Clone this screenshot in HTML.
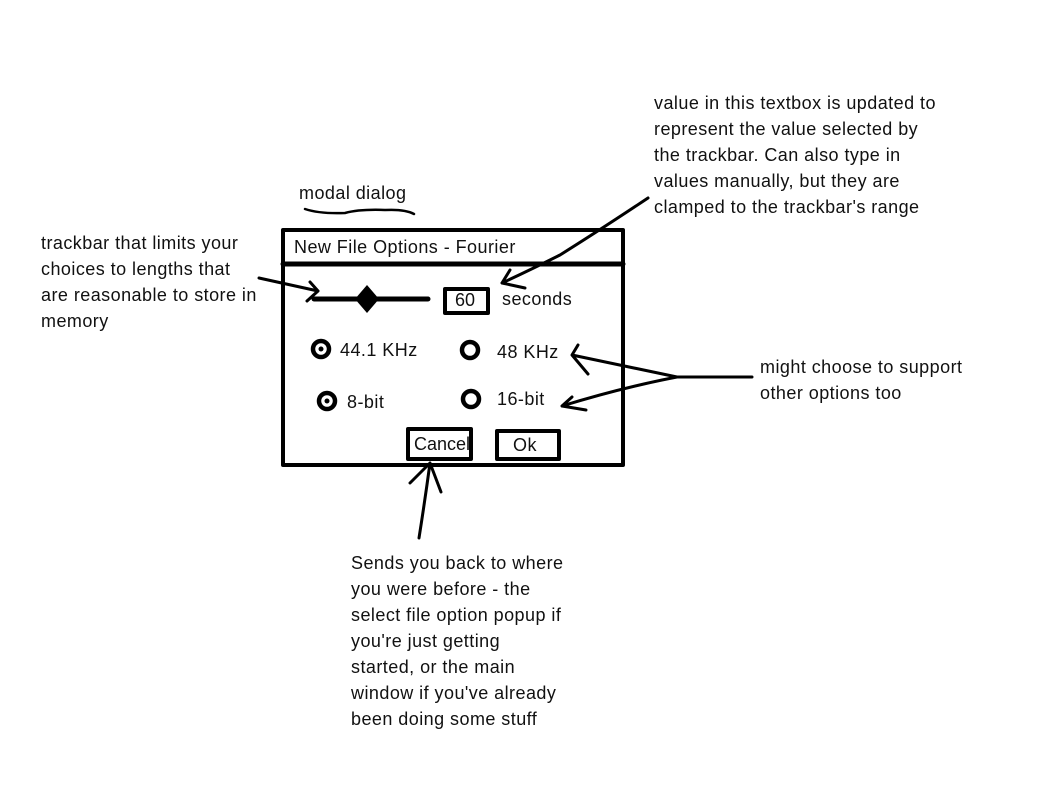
<!DOCTYPE html>
<html><head><style>
html,body{margin:0;padding:0;background:#fff;}
svg{display:block;}
text{font-family:"Liberation Sans",sans-serif;font-size:18px;letter-spacing:0.45px;fill:#111;}
</style></head><body>
<svg width="1046" height="788" viewBox="0 0 1046 788" xmlns="http://www.w3.org/2000/svg">
<g fill="none" stroke="#000" stroke-linecap="round" stroke-linejoin="round">
<rect x="283" y="230" width="340" height="235" stroke-width="4"/>
<line x1="283" y1="264" x2="623" y2="264" stroke-width="5"/>
<line x1="314" y1="299" x2="428" y2="299" stroke-width="5"/>
<rect x="445" y="289" width="43" height="24" stroke-width="4"/>
<circle cx="321" cy="349" r="8" stroke-width="4.5"/>
<circle cx="470" cy="350" r="8" stroke-width="4.5"/>
<circle cx="327" cy="401" r="8" stroke-width="4.5"/>
<circle cx="471" cy="399" r="8" stroke-width="4.5"/>
<rect x="408" y="429" width="63" height="30" stroke-width="4"/>
<rect x="497" y="431" width="62" height="28" stroke-width="4"/>
<path d="M305 209 Q320 214 345 213 Q360 209 385 210 Q405 209 414 214" stroke-width="2.5"/>
<path d="M259 278 L318 291 M310 282 L318 291 L307 301" stroke-width="3"/>
<path d="M648 198 Q600 230 560 255 Q530 270 502 283 M510 270 L502 283 L525 288" stroke-width="3"/>
<path d="M752 377 L677 377 Q620 365 572 355 M578 345 L572 355 L588 374" stroke-width="3"/>
<path d="M677 377 Q620 388 562 406 M572 397 L562 406 L586 410" stroke-width="3"/>
<path d="M419 538 Q425 500 430 463 M410 483 L430 463 L441 492" stroke-width="3"/>
</g>
<polygon points="367,285 379,299 367,313 355,299" fill="#000"/>
<circle cx="321" cy="349" r="2.5" fill="#000"/>
<circle cx="327" cy="401" r="2.5" fill="#000"/>
<text x="299" y="199">modal dialog</text>
<text x="294" y="253">New File Options - Fourier</text>
<text x="455" y="306" style="letter-spacing:0">60</text>
<text x="502" y="305">seconds</text>
<text x="340" y="356">44.1 KHz</text>
<text x="497" y="358">48 KHz</text>
<text x="347" y="408">8-bit</text>
<text x="497" y="405">16-bit</text>
<text x="414" y="450" style="letter-spacing:0">Cancel</text>
<text x="513" y="451">Ok</text>
<text x="41" y="249">trackbar that limits your</text>
<text x="41" y="275">choices to lengths that</text>
<text x="41" y="301">are reasonable to store in</text>
<text x="41" y="327">memory</text>
<text x="654" y="109">value in this textbox is updated to</text>
<text x="654" y="135">represent the value selected by</text>
<text x="654" y="161">the trackbar. Can also type in</text>
<text x="654" y="187">values manually, but they are</text>
<text x="654" y="213">clamped to the trackbar's range</text>
<text x="760" y="373">might choose to support</text>
<text x="760" y="399">other options too</text>
<text x="351" y="569">Sends you back to where</text>
<text x="351" y="595">you were before - the</text>
<text x="351" y="621">select file option popup if</text>
<text x="351" y="647">you're just getting</text>
<text x="351" y="673">started, or the main</text>
<text x="351" y="699">window if you've already</text>
<text x="351" y="725">been doing some stuff</text>
</svg>
</body></html>
